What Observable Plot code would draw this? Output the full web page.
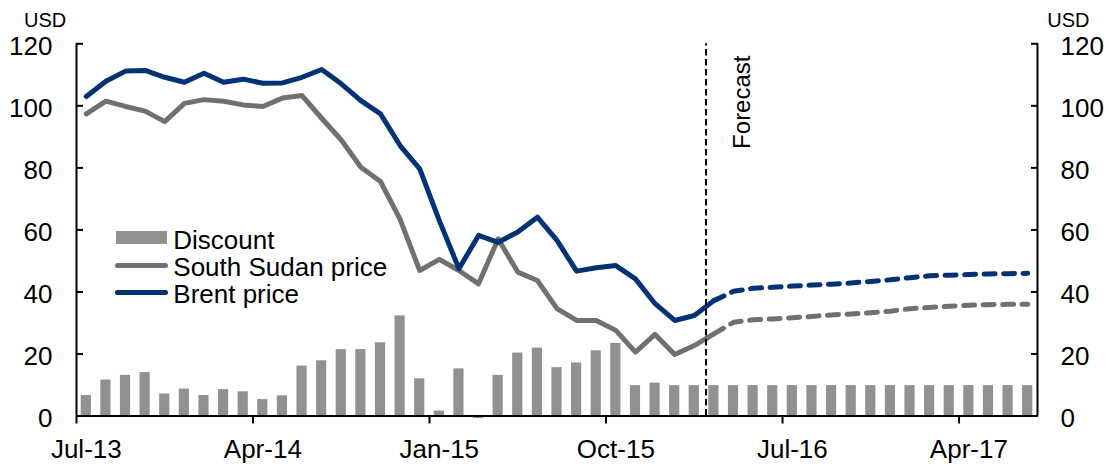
<!DOCTYPE html>
<html>
<head>
<meta charset="utf-8">
<script src="https://cdn.jsdelivr.net/npm/d3@7"></script>
<script src="https://cdn.jsdelivr.net/npm/@observablehq/plot@0.6"></script>
<style>
  body { margin: 0; background: #fff; }
  #wrap { position: relative; width: 1111px; height: 464px; font-family: "Liberation Sans", Arial, sans-serif; }
  #legend { position: absolute; left: 116px; top: 226.8px; font-size: 26px; line-height: 27px; color: #000; }
  .row { position: relative; height: 27px; padding-left: 57.3px; white-space: nowrap; }
  .sw { position: absolute; left: 0; }
</style>
</head>
<body>
<div id="wrap"></div>
<script>
// ---- data ----
const months = ["Jul-13","Aug-13","Sep-13","Oct-13","Nov-13","Dec-13","Jan-14","Feb-14","Mar-14","Apr-14",
  "May-14","Jun-14","Jul-14","Aug-14","Sep-14","Oct-14","Nov-14","Dec-14","Jan-15","Feb-15",
  "Mar-15","Apr-15","May-15","Jun-15","Jul-15","Aug-15","Sep-15","Oct-15","Nov-15","Dec-15",
  "Jan-16","Feb-16","Mar-16","Apr-16","May-16","Jun-16","Jul-16","Aug-16","Sep-16","Oct-16",
  "Nov-16","Dec-16","Jan-17","Feb-17","Mar-17","Apr-17","May-17","Jun-17","Jul-17"];
const tickLabels = ["Jul-13","Apr-14","Jan-15","Oct-15","Jul-16","Apr-17"];
const yTicks = [0, 20, 40, 60, 80, 100, 120];
const forecastStart = "Mar-16";

const discount = [6.6, 11.6, 13.1, 14.0, 7.1, 8.7, 6.6, 8.5, 7.8, 5.3,
  6.5, 16.1, 17.8, 21.4, 21.4, 23.6, 32.3, 12.0, 1.6, 15.2,
  -0.8, 13.1, 20.3, 21.9, 15.6, 17.1, 21.0, 23.4, 9.8, 10.6,
  9.8, 9.8, 9.8, 9.8, 9.8, 9.8, 9.8, 9.8, 9.8, 9.8,
  9.8, 9.8, 9.8, 9.8, 9.8, 9.8, 9.8, 9.8, 9.8];
const southSudanPrice = [97.4, 101.5, 99.8, 98.3, 94.9, 100.8, 102.0, 101.5, 100.3, 99.8,
  102.5, 103.3, 96.0, 89.0, 80.2, 75.6, 63.4, 46.9, 50.5, 46.9,
  42.6, 57.1, 46.4, 43.7, 34.6, 30.8, 30.8, 27.6, 20.6, 26.3,
  19.8, 22.7, 26.5, 30.2, 31.0, 31.3, 31.7, 32.1, 32.6, 32.9,
  33.3, 33.8, 34.6, 35.0, 35.4, 35.7, 35.9, 36.0, 36.0];
const brentPrice = [103.0, 107.9, 111.2, 111.4, 109.2, 107.6, 110.5, 107.6, 108.6, 107.3,
  107.4, 109.2, 111.7, 107.1, 101.7, 97.4, 87.2, 79.7, 63.0, 47.5,
  58.2, 56.0, 59.3, 64.1, 56.6, 46.7, 47.8, 48.5, 44.2, 36.2,
  30.8, 32.4, 37.2, 40.2, 41.2, 41.5, 41.9, 42.2, 42.5, 42.9,
  43.4, 43.9, 44.6, 45.2, 45.4, 45.6, 45.8, 45.9, 46.0];

// ---- derived tables ----
const BLUE = "#003274", GRAY_LINE = "#707070", GRAY_BAR = "#919191";
const fi = months.indexOf(forecastStart);
const rows = months.map((m, i) => ({i, m, discount: discount[i], ss: southSudanPrice[i], brent: brentPrice[i]}));
const actual = rows.filter(d => d.i <= fi);
const forecast = rows.filter(d => d.i >= fi);
const labelIdx = tickLabels.map(t => months.indexOf(t));
const boundaryIdx = labelIdx.map(i => i - 0.5);
const forecastX = fi - 0.4;
const xMax = months.length - 0.5;

const chart = Plot.plot({
  width: 1111,
  height: 464,
  marginLeft: 76,
  marginRight: 74,
  marginTop: 43.3,
  marginBottom: 48.5,
  x: {type: "linear", domain: [-0.5, xMax], label: null},
  y: {domain: [0, 120], label: null},
  style: {fontFamily: '"Liberation Sans", Arial, sans-serif', fontSize: "26px", color: "#000", background: "#fff", overflow: "visible"},
  marks: [
    Plot.rect(rows, {x1: d => d.i - 0.26, x2: d => d.i + 0.26, y1: 0, y2: "discount", fill: GRAY_BAR}),
    Plot.line(actual, {x: "i", y: "ss", stroke: GRAY_LINE, strokeWidth: 5, strokeLinejoin: "round"}),
    Plot.line(forecast, {x: "i", y: "ss", stroke: GRAY_LINE, strokeWidth: 5, strokeDasharray: "11,8.5", strokeLinecap: "round"}),
    Plot.line(actual, {x: "i", y: "brent", stroke: BLUE, strokeWidth: 5, strokeLinejoin: "round"}),
    Plot.line(forecast, {x: "i", y: "brent", stroke: BLUE, strokeWidth: 5, strokeDasharray: "11,8.5", strokeLinecap: "round"}),
    Plot.ruleX([forecastX], {y1: 0, y2: 120, stroke: "#000", strokeWidth: 2, strokeDasharray: "6.5,3.5"}),
    Plot.text([forecastX], {x: d => d, text: () => "Forecast", frameAnchor: "top", lineAnchor: "middle", rotate: -90, textAnchor: "end", dx: 36, dy: 11.7, fontSize: 24, fill: "#000"}),
    // axis lines
    Plot.ruleY([0], {stroke: "#000", strokeWidth: 2}),
    Plot.ruleX([-0.5, xMax], {y1: 0, y2: 120, stroke: "#000", strokeWidth: 2}),
    // x axis
    Plot.axisX(boundaryIdx, {tickSize: 8, tickFormat: () => "", strokeWidth: 2, label: null}),
    Plot.axisX(labelIdx, {tickSize: 0, tickPadding: 24, tickFormat: i => months[i], label: null}),
    // left y axis
    Plot.axisY(yTicks, {anchor: "left", tickSize: -7, tickFormat: () => "", strokeWidth: 2, label: null}),
    Plot.axisY(yTicks, {anchor: "left", tickSize: 0, tickPadding: 24, dy: 3, label: null}),
    // right y axis
    Plot.axisY(yTicks, {anchor: "right", tickSize: -7, tickFormat: () => "", strokeWidth: 2, label: null}),
    Plot.axisY(yTicks, {anchor: "right", tickSize: 0, tickPadding: 23, dy: 3, label: null}),
    // unit labels
    Plot.text(["USD"], {frameAnchor: "top-left", lineAnchor: "middle", textAnchor: "end", dx: -10.3, dy: -23, fontSize: 20, fill: "#000"}),
    Plot.text(["USD"], {frameAnchor: "top-right", lineAnchor: "middle", textAnchor: "start", dx: 9.7, dy: -23, fontSize: 20, fill: "#000"})
  ]
});

const wrap = document.getElementById("wrap");
wrap.appendChild(chart);

// legend (inside plot area, HTML overlay)
const legendItems = [
  {label: "Discount", type: "bar", color: GRAY_BAR},
  {label: "South Sudan price", type: "line", color: GRAY_LINE},
  {label: "Brent price", type: "line", color: BLUE}
];
const legend = document.createElement("div");
legend.id = "legend";
for (const item of legendItems) {
  const row = document.createElement("div");
  row.className = "row";
  const sw = document.createElement("span");
  sw.className = "sw";
  if (item.type === "bar") {
    Object.assign(sw.style, {top: "4.2px", width: "51.3px", height: "13.3px", background: item.color});
  } else {
    Object.assign(sw.style, {top: "8.9px", left: "-1.3px", width: "53.6px", height: "5px", background: item.color, borderRadius: "2.5px"});
  }
  row.appendChild(sw);
  row.appendChild(document.createTextNode(item.label));
  legend.appendChild(row);
}
wrap.appendChild(legend);
</script>
</body>
</html>
